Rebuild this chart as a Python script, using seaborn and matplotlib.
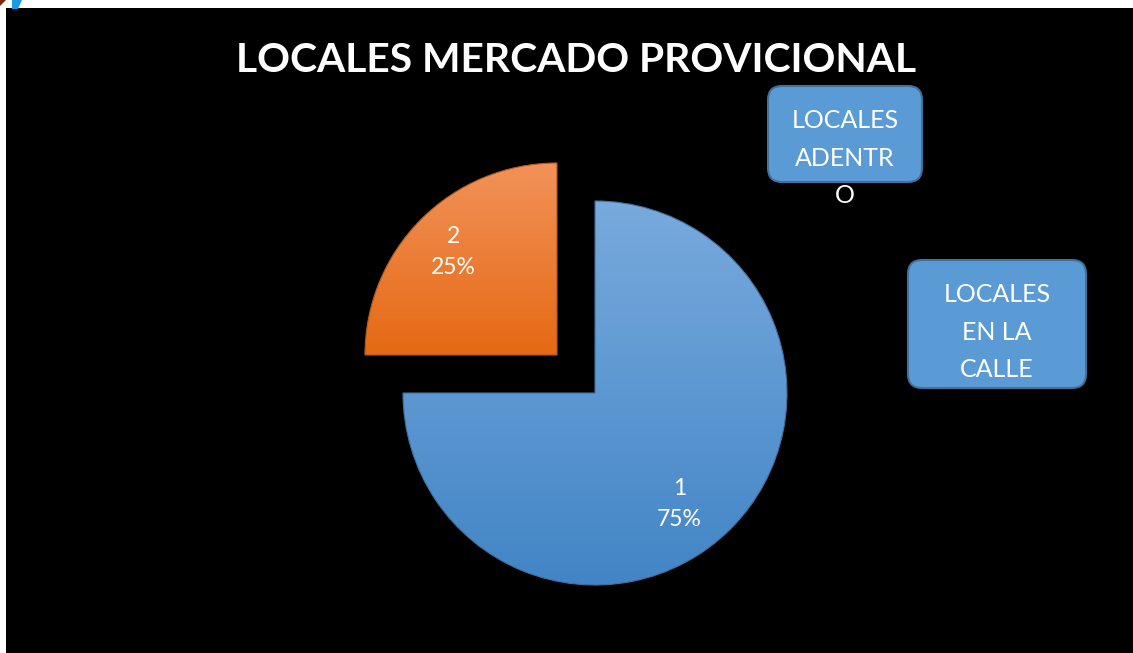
import matplotlib
matplotlib.use('Agg')
import matplotlib.pyplot as plt
import matplotlib.patches as mpatches
from matplotlib.colors import LinearSegmentedColormap
import numpy as np
import seaborn as sns

sns.set_theme(style='white')
plt.rcParams['font.family'] = ['Lato', 'DejaVu Sans']

# 데이터
numeros = [1, 2]
valores = [75, 25]
titulo = 'LOCALES MERCADO PROVICIONAL'
leyenda = ['LOCALES\nADENTR\nO', 'LOCALES\nEN LA\nCALLE']

W, H = 1133, 653
fig = plt.figure(figsize=(W / 100, H / 100), dpi=100, facecolor='white')

# black chart area
fig.patches.append(mpatches.Rectangle((6 / W, 0), 1, (H - 8) / H, transform=fig.transFigure,
                                      facecolor='black', edgecolor='none', zorder=-2))
# small icon at the top-left corner
fig.patches.append(mpatches.Polygon([(12 / W, 1), (22 / W, 1), (18 / W, (H - 9) / H), (12 / W, (H - 9) / H)],
                                    closed=True, transform=fig.transFigure, facecolor='#1e9be0',
                                    edgecolor='none', zorder=-1))
fig.patches.append(mpatches.Polygon([(0, 1), (6 / W, 1), (0, (H - 6) / H)], closed=True,
                                    transform=fig.transFigure, facecolor='#7a2a10', edgecolor='none', zorder=-1))

# pie axes: centre (595, 393) px, radius 192 px
cx, cy, R = 595, 393, 192
half = 1.5 * R
ax = fig.add_axes([(cx - half) / W, (H - cy - half) / H, 2 * half / W, 2 * half / H])
ax.set_facecolor('none')

contador = iter(numeros)
wedges, textos, autotextos = ax.pie(
    valores, startangle=90, counterclock=False, explode=[0, 0.28],
    colors=['#5b9bd5', '#ed7d31'], pctdistance=0.76,
    autopct=lambda p: '{}\n{:.0f}%'.format(next(contador), p),
    wedgeprops=dict(linewidth=0.8),
    textprops=dict(color='white', fontsize=16.5, linespacing=1.6))
# Excel puts the big slice's label a bit further round
autotextos[0].set_position((0.44, -0.58))

# gradient fill clipped to each wedge
gradientes = [('#78aadd', '#4285c6', '#41719c'), ('#f29259', '#e56914', '#ae5a21')]
grad = np.linspace(0, 1, 256).reshape(-1, 1)
for w, (c1, c2, ce) in zip(wedges, gradientes):
    cmap = LinearSegmentedColormap.from_list('g', [c1, c2])
    bb = w.get_path().get_extents(w.get_transform() + ax.transData.inverted())
    im = ax.imshow(grad, cmap=cmap, aspect='auto', extent=[bb.x0, bb.x1, bb.y0, bb.y1],
                   origin='upper', zorder=1)
    im.set_clip_path(w)
    w.set_facecolor('none')
    w.set_edgecolor(ce)
    w.set_zorder(2)
for t in autotextos:
    t.set_zorder(3)
ax.set_xlim(-1.5, 1.5)
ax.set_ylim(-1.5, 1.5)
ax.set_aspect('equal')
ax.axis('off')

# title
fig.text(576 / W, 1 - 60 / H, titulo, color='white', fontsize=29.3, fontweight='bold',
         ha='center', va='center')

# legend-like boxes
cajas = [(768, 86, 154, 96, 845, 158), (908, 260, 178, 128, 997, 332)]
for (x, y, w, h, tx, ty), txt in zip(cajas, leyenda):
    caja = mpatches.FancyBboxPatch(((x + 12) / W, 1 - (y + h - 12) / H), (w - 24) / W, (h - 24) / H,
                                   boxstyle=mpatches.BoxStyle('Round', pad=12 / W, rounding_size=14 / W),
                                   transform=fig.transFigure, facecolor='#5b9bd5',
                                   edgecolor='#41719c', linewidth=1.5, zorder=2,
                                   mutation_aspect=W / H)
    fig.patches.append(caja)
    fig.text(tx / W, 1 - ty / H, txt, color='white', fontsize=18, ha='center', va='center',
             linespacing=1.75, zorder=3)

fig.savefig('out.png', dpi=100, facecolor='white')
